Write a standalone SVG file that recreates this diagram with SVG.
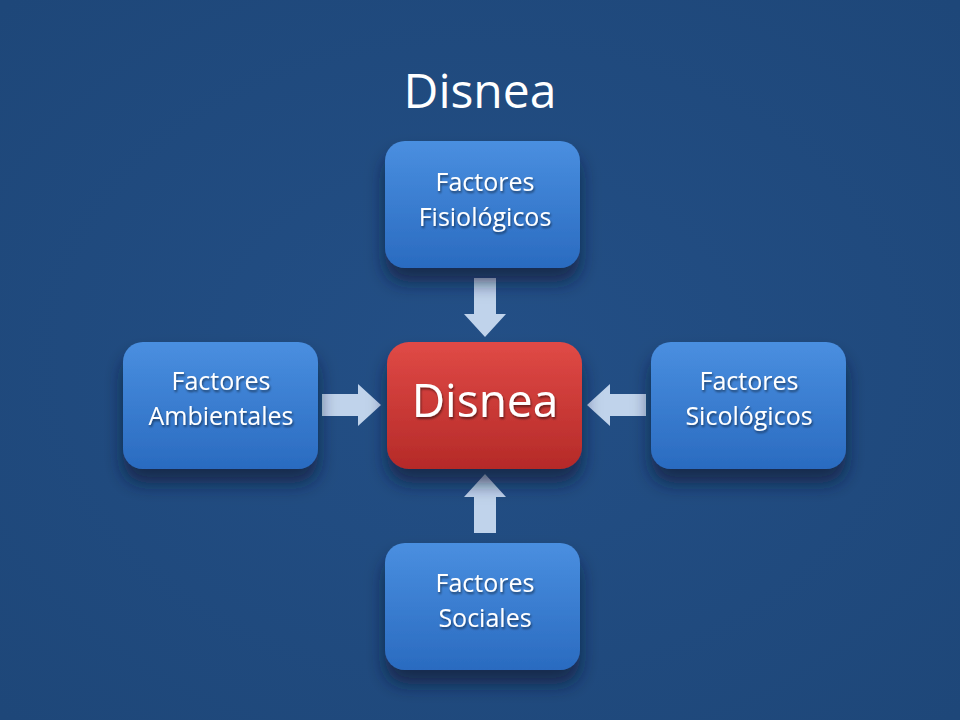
<svg xmlns="http://www.w3.org/2000/svg" width="960" height="720" viewBox="0 0 960 720">
<defs>
<radialGradient id="bg" cx="50%" cy="50%" r="70%"><stop offset="0" stop-color="#234F86"/><stop offset="1" stop-color="#1E4779"/></radialGradient>
<linearGradient id="blue" x1="0" y1="0" x2="0" y2="1"><stop offset="0" stop-color="#4A8FE0"/><stop offset="1" stop-color="#2A6BC0"/></linearGradient>
<linearGradient id="red" x1="0" y1="0" x2="0" y2="1"><stop offset="0" stop-color="#E04A46"/><stop offset="1" stop-color="#B52A28"/></linearGradient>
<filter id="sh" x="-20%" y="-20%" width="140%" height="150%"><feDropShadow dx="0" dy="14" stdDeviation="9" flood-color="#0A1E38" flood-opacity="0.7"/></filter>
<filter id="ts"><feDropShadow dx="1" dy="2" stdDeviation="1" flood-color="#000" flood-opacity="0.5"/></filter>
<style>
.box{fill:url(#blue);filter:url(#sh)}
.lbl{font-family:"Open Sans","Liberation Sans",sans-serif;font-size:25px;fill:#fff;text-anchor:middle;filter:url(#ts)}
.arr{fill:#C9DAF0;opacity:0.95}
</style>
</defs>
<rect width="960" height="720" fill="url(#bg)"/>
<text x="480" y="108" font-family="'Open Sans','Liberation Sans',sans-serif" font-size="48" fill="#fff" text-anchor="middle">Disnea</text>
<g id="connectors">
<polygon class="arr" points="474,278 496,278 496,314 506,314 485,337 464,314 474,314"/>
<polygon class="arr" points="322,394 358,394 358,384 381,405 358,426 358,416 322,416"/>
<polygon class="arr" points="646,394 610,394 610,384 587,405 610,426 610,416 646,416"/>
<polygon class="arr" points="474,533 496,533 496,497 506,497 485,474 464,497 474,497"/>
</g>
<g id="top"><rect class="box" x="385" y="141" width="195" height="127" rx="20"/><text class="lbl" x="485" y="191">Factores</text><text class="lbl" x="485" y="226">Fisiológicos</text></g>
<g id="left"><rect class="box" x="123" y="342" width="195" height="127" rx="20"/><text class="lbl" x="221" y="390">Factores</text><text class="lbl" x="221" y="425">Ambientales</text></g>
<g id="center"><rect x="387" y="342" width="195" height="127" rx="22" fill="url(#red)" filter="url(#sh)"/><text x="485" y="417" font-family="'Open Sans','Liberation Sans',sans-serif" font-size="46" fill="#fff" text-anchor="middle" filter="url(#ts)">Disnea</text></g>
<g id="right"><rect class="box" x="651" y="342" width="195" height="127" rx="20"/><text class="lbl" x="749" y="390">Factores</text><text class="lbl" x="749" y="425">Sicológicos</text></g>
<g id="bottom"><rect class="box" x="385" y="543" width="195" height="127" rx="20"/><text class="lbl" x="485" y="592">Factores</text><text class="lbl" x="485" y="627">Sociales</text></g>
</svg>
